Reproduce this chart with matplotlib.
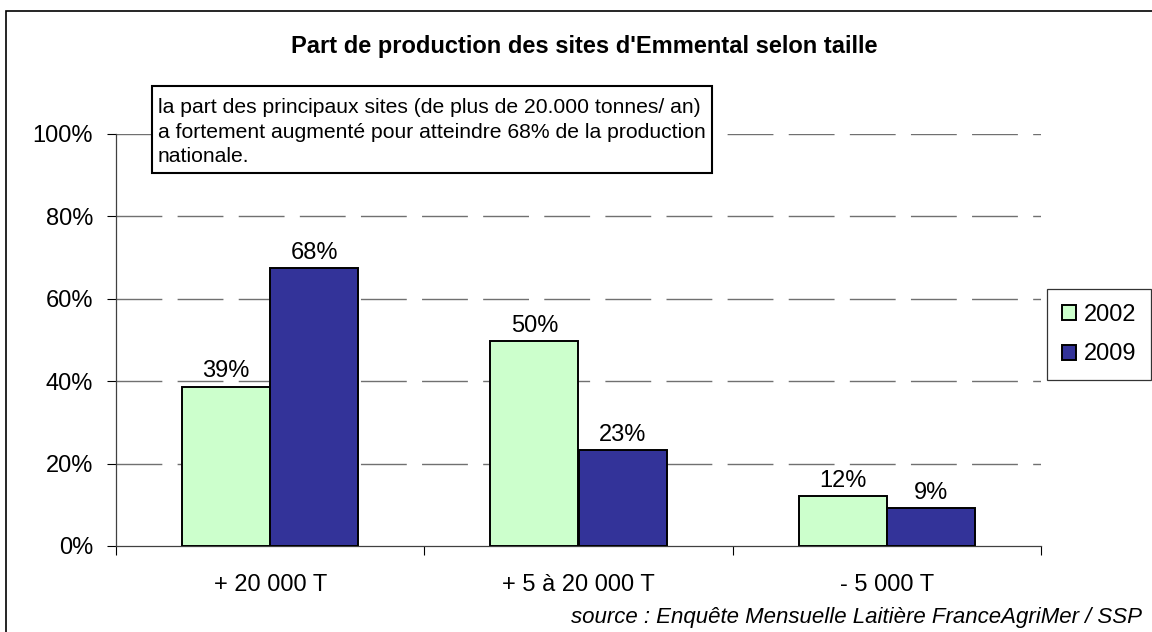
import matplotlib.pyplot as plt
import numpy as np
from matplotlib.patches import Rectangle

plt.rcParams["font.family"] = ["Liberation Sans", "DejaVu Sans"]

categories = ["+ 20 000 T", "+ 5 à 20 000 T", "- 5 000 T"]
years = ["2002", "2009"]
share_2002 = [0.387, 0.497, 0.121]
share_2009 = [0.675, 0.232, 0.092]
y_ticks = [0.0, 0.2, 0.4, 0.6, 0.8, 1.0]

title = "Part de production des sites d'Emmental selon taille"
note = ("la part des principaux sites (de plus de 20.000 tonnes/ an)\n"
        "a fortement augmenté pour atteindre 68% de la production\n"
        "nationale.")
source = "source : Enquête Mensuelle Laitière FranceAgriMer / SSP"

colors = ["#CCFFCC", "#333399"]
W, H = 1152, 632


def fx(px):
    return px / W


def fy(py):
    return 1 - py / H


fig = plt.figure(figsize=(W / 100, H / 100), dpi=100)
ax = fig.add_axes([fx(116), fy(546), (1041 - 116) / W, (546 - 134) / H])

# outer frame of the chart area
fig.patches.append(Rectangle((fx(6), -0.01), 1.0, fy(11) + 0.01,
                             transform=fig.transFigure, fill=False,
                             edgecolor="black", lw=1.2, zorder=0))

x = np.arange(len(categories))
w = 0.2857
for i, (vals, year) in enumerate(zip([share_2002, share_2009], years)):
    pos = x + (i - 0.5) * w
    bars = ax.bar(pos, vals, width=w, color=colors[i], edgecolor="black",
                  linewidth=1.4, label=year, zorder=3)
    for b, v in zip(bars, vals):
        ax.annotate(f"{v * 100:.0f}%", (b.get_x() + b.get_width() / 2, v),
                    xytext=(0, 3), textcoords="offset points",
                    ha="center", va="bottom", fontsize=17)

ax.set_xlim(-0.5, len(categories) - 0.5)
ax.set_ylim(0, 1.0)
ax.set_yticks(y_ticks)
ax.set_yticklabels([f"{t * 100:.0f}%" for t in y_ticks], fontsize=17)
ax.set_xticks(np.arange(len(categories) + 1) - 0.5)
ax.set_xticklabels([])
ax.set_xticks(x, minor=True)
ax.set_xticklabels(categories, minor=True, fontsize=17)
ax.tick_params(axis="x", which="major", length=6.5, width=0.8, direction="out")
ax.tick_params(axis="x", which="minor", length=0, pad=20)
ax.tick_params(axis="y", length=6.5, width=0.8, pad=10)

for t in y_ticks[1:]:
    ax.axhline(t, color="#707070", lw=1.0, linestyle=(0, (33, 11)), zorder=1)

for s in ["top", "right"]:
    ax.spines[s].set_visible(False)
for s in ["left", "bottom"]:
    ax.spines[s].set_linewidth(0.9)
    ax.spines[s].set_color("#404040")

fig.text(fx(584), fy(46), title, ha="center", va="center",
         fontsize=17, fontweight="bold")

# annotation box
fig.patches.append(Rectangle((fx(152), fy(173)), fx(712) - fx(152),
                             fy(86) - fy(173), transform=fig.transFigure,
                             facecolor="white", edgecolor="black", lw=1.5,
                             zorder=5))
fig.text(fx(158), fy(132), note, ha="left", va="center",
         fontsize=15.2, linespacing=1.36, zorder=6)

leg = ax.legend(loc="upper left", bbox_to_anchor=(fx(1047), fy(289)),
                bbox_transform=fig.transFigure, fontsize=17, frameon=True,
                fancybox=False, handlelength=0.6, handleheight=0.6,
                handletextpad=0.35, labelspacing=0.75, borderpad=0.62,
                borderaxespad=0)
leg.get_frame().set_edgecolor("black")
leg.get_frame().set_linewidth(0.9)

fig.text(fx(1142), fy(618), source, ha="right", va="center",
         fontsize=16, style="italic")

fig.savefig("out.png", dpi=100)
